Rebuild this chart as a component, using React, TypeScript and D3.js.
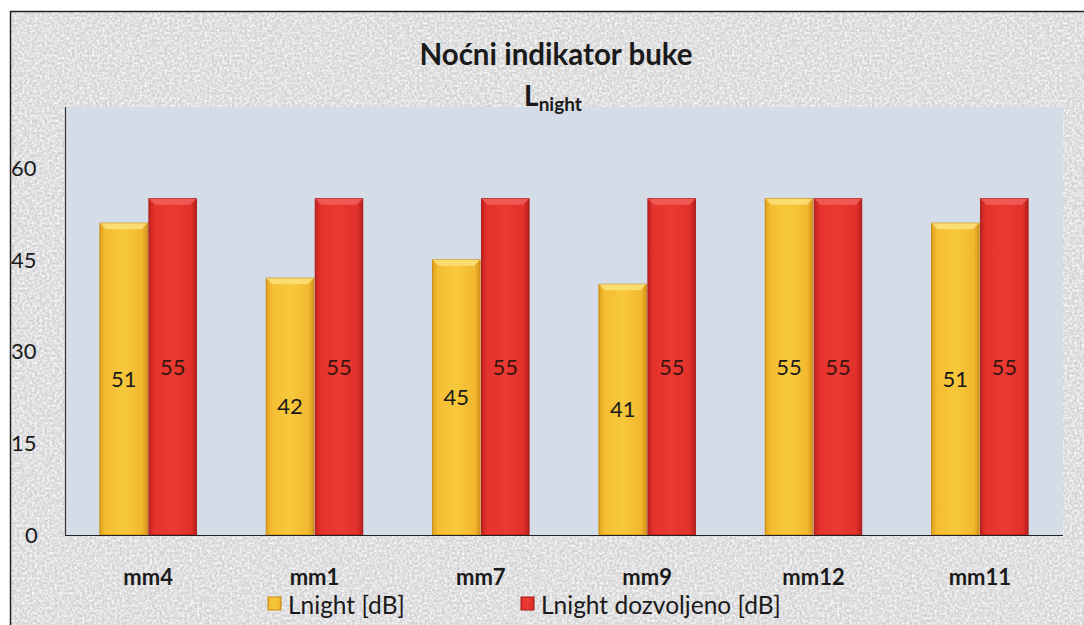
import React from "react";
import * as d3 from "d3";

const categories = ["mm4", "mm1", "mm7", "mm9", "mm12", "mm11"];
const lnight = [51, 42, 45, 41, 55, 51];
const lnightAllowed = [55, 55, 55, 55, 55, 55];
const seriesNames = ["Lnight [dB]", "Lnight dozvoljeno [dB]"];
const yTicks = [0, 15, 30, 45, 60];

const W = 1084;
const H = 625;
const plot = { left: 65, right: 1063, top: 107, bottom: 535 };
const FONT = "Lato, 'Open Sans', sans-serif";

export default function App() {
  const x = d3
    .scaleBand<string>()
    .domain(categories)
    .range([plot.left, plot.right])
    .paddingInner(0.42)
    .paddingOuter(0.21);
  const inner = d3.scaleBand<number>().domain([0, 1]).range([0, x.bandwidth()]).paddingInner(0.03);
  const y = d3.scaleLinear().domain([0, 70]).range([plot.bottom, plot.top]);

  const series = [
    { name: seriesNames[0], values: lnight, grad: "gY", bevel: "#fbe27a", edge: "#c98a12", text: "#1a1a1a" },
    { name: seriesNames[1], values: lnightAllowed, grad: "gR", bevel: "#f0605a", edge: "#a81a18", text: "#3a1410" },
  ];

  return (
    <svg width={W} height={H} style={{ position: "absolute", left: 0, top: 0 }} fontFamily={FONT}>
      <defs>
        <filter id="noise" x="0" y="0" width="100%" height="100%">
          <feTurbulence type="fractalNoise" baseFrequency="0.4" numOctaves="3" seed="7" />
          <feColorMatrix type="matrix" values="0 0 0 0 1  0 0 0 0 1  0 0 0 0 1  0 0 0 1.8 -0.6" />
        </filter>
        <linearGradient id="gY" x1="0" x2="1" y1="0" y2="0">
          <stop offset="0" stopColor="#e2a21c" />
          <stop offset="0.12" stopColor="#f4bd34" />
          <stop offset="0.5" stopColor="#f7c83c" />
          <stop offset="0.88" stopColor="#f2b830" />
          <stop offset="1" stopColor="#d8951a" />
        </linearGradient>
        <linearGradient id="gR" x1="0" x2="1" y1="0" y2="0">
          <stop offset="0" stopColor="#c42420" />
          <stop offset="0.12" stopColor="#e6322c" />
          <stop offset="0.5" stopColor="#ea3a32" />
          <stop offset="0.88" stopColor="#e2302a" />
          <stop offset="1" stopColor="#b8201c" />
        </linearGradient>
      </defs>
      <rect x={0} y={0} width={W} height={H} fill="#ffffff" />
      <rect x={10} y={11} width={W - 10} height={H - 11} fill="#d3d3d5" />
      <rect x={10} y={11} width={W - 10} height={H - 11} filter="url(#noise)" />
      <line x1={10.5} y1={11} x2={10.5} y2={H} stroke="#222" strokeWidth={1.5} />
      <line x1={10} y1={11.5} x2={W} y2={11.5} stroke="#222" strokeWidth={1.5} />

      <rect x={plot.left} y={plot.top} width={plot.right - plot.left} height={plot.bottom - plot.top} fill="#d4dce7" />
      <line x1={plot.left + 0.5} y1={plot.top} x2={plot.left + 0.5} y2={plot.bottom} stroke="#333" strokeWidth={1.2} />

      <text x={556} y={65} textAnchor="middle" fontSize={29.5} fontWeight="bold" fill="#1a1a1a">
        Noćni indikator buke
      </text>
      <text x={553} y={106} textAnchor="middle" fontWeight="bold" fill="#1a1a1a">
        <tspan fontSize={28}>L</tspan>
        <tspan fontSize={19} dy={5}>night</tspan>
      </text>

      {yTicks.map((t) => (
        <text key={t} x={t === 0 ? 25 : 11} y={y(t)} dy="0.35em" fontSize={22} fill="#1a1a1a">
          {t}
        </text>
      ))}

      {categories.map((c, i) => (
        <g key={c} transform={`translate(${x(c)},0)`}>
          {series.map((s, si) => {
            const bx = inner(si)!;
            const bw = inner.bandwidth();
            const top = y(s.values[i]);
            const h = plot.bottom - top;
            const bev = 6;
            return (
              <g key={si}>
                <rect x={bx} y={top} width={bw} height={h} fill={`url(#${s.grad})`} stroke={s.edge} strokeWidth={1} />
                <polygon
                  points={`${bx},${top} ${bx + bw},${top} ${bx + bw - bev},${top + bev} ${bx + bev},${top + bev}`}
                  fill={s.bevel}
                  opacity={0.85}
                />
                <text x={bx + bw / 2} y={top + h / 2} dy="0.35em" textAnchor="middle" fontSize={22} fill={s.text}>
                  {s.values[i]}
                </text>
              </g>
            );
          })}
          <text x={x.bandwidth() / 2} y={585} textAnchor="middle" fontSize={22} fontWeight="bold" fill="#1a1a1a">
            {c}
          </text>
        </g>
      ))}
      <line x1={plot.left} y1={plot.bottom + 0.5} x2={plot.right} y2={plot.bottom + 0.5} stroke="#222" strokeWidth={1.2} />

      <rect x={268} y={597} width={13} height={13} fill="url(#gY)" stroke="#c98a12" />
      <text x={288} y={614} fontSize={24.5} fill="#1a1a1a">{seriesNames[0]}</text>
      <rect x={521} y={597} width={13} height={13} fill="url(#gR)" stroke="#a81a18" />
      <text x={541} y={614} fontSize={24.5} fill="#1a1a1a">{seriesNames[1]}</text>
    </svg>
  );
}
